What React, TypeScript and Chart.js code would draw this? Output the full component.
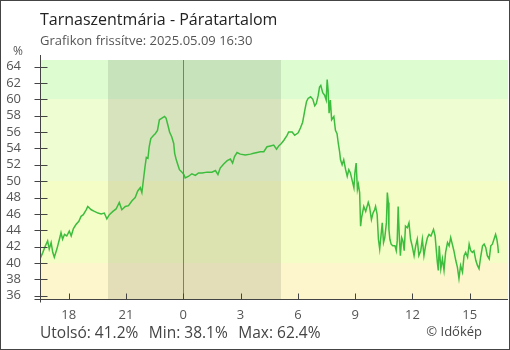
import { useEffect, useRef } from "react";
import { Chart, registerables } from "chart.js";

Chart.register(...registerables);

const chartTitle = "Tarnaszentmária - Páratartalom";
const updatedLabel = "Grafikon frissítve: 2025.05.09 16:30";
const unitLabel = "%";
const creditLabel = "© Időkép";
const lastLabel = "Utolsó";

// Measurement times (from 16:30 on the previous day to 16:30)
const times: string[] = [
  "16:30", "16:39", "16:47", "16:54", "16:59", "17:05", "17:10", "17:15", "17:23", "17:31",
  "17:36", "17:41", "17:47", "17:54", "18:02", "18:08", "18:15", "18:23", "18:32", "18:39",
  "18:46", "18:55", "19:00", "19:11", "19:21", "19:32", "19:42", "19:52", "20:00", "20:08",
  "20:19", "20:29", "20:39", "20:47", "20:58", "21:08", "21:19", "21:29", "21:37", "21:45",
  "21:50", "21:55", "22:00", "22:04", "22:09", "22:13", "22:18", "22:27", "22:32", "22:39",
  "22:45", "22:53", "23:01", "23:06", "23:12", "23:17", "23:24", "23:30", "23:33", "23:38",
  "23:43", "23:48", "23:56", "00:02", "00:06", "00:17", "00:27", "00:38", "00:48", "00:59",
  "01:15", "01:30", "01:41", "01:49", "01:56", "02:07", "02:18", "02:28", "02:35", "02:41",
  "02:49", "02:59", "03:15", "03:31", "03:41", "03:52", "04:02", "04:13", "04:23", "04:34",
  "04:44", "04:53", "05:00", "05:08", "05:16", "05:26", "05:31", "05:42", "05:50", "06:01",
  "06:08", "06:15", "06:22", "06:27", "06:32", "06:40", "06:47", "06:53", "06:58", "07:04",
  "07:08", "07:12", "07:18", "07:24", "07:29", "07:32", "07:35", "07:38", "07:42", "07:46",
  "07:53", "07:58", "08:03", "08:07", "08:11", "08:14", "08:19", "08:24", "08:30", "08:35",
  "08:40", "08:45", "08:51", "08:56", "08:59", "09:03", "09:07", "09:10", "09:14", "09:17",
  "09:20", "09:27", "09:33", "09:41", "09:45", "09:51", "09:56", "10:01", "10:04", "10:09",
  "10:13", "10:17", "10:21", "10:25", "10:29", "10:33", "10:38", "10:41", "10:44", "10:46",
  "10:49", "10:53", "10:58", "11:05", "11:09", "11:12", "11:15", "11:19", "11:22", "11:26",
  "11:30", "11:34", "11:38", "11:44", "11:49", "11:54", "11:59", "12:05", "12:10", "12:15",
  "12:20", "12:26", "12:31", "12:36", "12:41", "12:47", "12:52", "12:58", "13:06", "13:11",
  "13:18", "13:21", "13:24", "13:29", "13:34", "13:39", "13:44", "13:50", "13:55", "14:00",
  "14:05", "14:10", "14:16", "14:21", "14:26", "14:31", "14:37", "14:42", "14:47", "14:53",
  "14:58", "15:03", "15:08", "15:13", "15:19", "15:24", "15:29", "15:34", "15:40", "15:45",
  "15:50", "15:55", "16:01", "16:06", "16:11", "16:16", "16:21", "16:25", "16:28", "16:30",
];

// Relative humidity (%)
const humidity: number[] = [
  40.5, 41.3, 42.1, 42.7, 41.7, 42.5, 41.3, 40.7, 41.7, 42.9,
  43.7, 42.9, 43.5, 43.3, 43.9, 43.3, 44.2, 44.7, 45.1, 45.7,
  45.9, 46.5, 46.9, 46.5, 46.3, 46.1, 46.0, 46.1, 45.4, 45.9,
  46.3, 46.6, 47.4, 46.5, 46.9, 47.0, 47.6, 48.0, 48.8, 49.2,
  48.6, 50.2, 51.8, 52.9, 52.8, 54.2, 55.2, 55.6, 55.8, 56.2,
  57.5, 57.7, 57.9, 57.7, 56.8, 56.0, 55.4, 54.6, 53.4, 52.6,
  52.0, 51.4, 51.1, 50.8, 50.4, 50.6, 50.9, 50.7, 51.0, 51.0,
  51.1, 51.1, 51.3, 50.8, 51.6, 52.1, 52.5, 52.7, 52.2, 53.0,
  53.5, 53.3, 53.2, 53.3, 53.4, 53.5, 53.6, 53.6, 54.2, 54.3,
  54.4, 53.9, 54.3, 54.6, 55.0, 55.6, 56.0, 56.0, 55.6, 55.9,
  56.5, 57.2, 58.7, 59.7, 60.1, 60.3, 60.0, 59.2, 59.5, 60.5,
  61.5, 61.7, 60.8, 60.5, 59.9, 62.4, 61.1, 58.3, 59.9, 57.5,
  57.9, 56.2, 55.8, 54.6, 53.6, 52.6, 52.0, 52.6, 51.4, 50.6,
  51.4, 51.0, 50.0, 49.2, 51.0, 52.2, 49.0, 49.6, 48.6, 44.5,
  45.5, 46.9, 46.3, 47.4, 46.9, 45.3, 46.1, 46.5, 46.9, 45.9,
  42.9, 41.7, 43.3, 44.9, 42.5, 43.1, 44.9, 48.6, 47.4, 44.1,
  42.9, 42.3, 42.1, 42.1, 41.5, 42.7, 46.9, 42.9, 40.9, 43.1,
  42.7, 41.5, 44.5, 44.3, 44.9, 42.9, 42.1, 40.9, 42.1, 42.9,
  40.9, 41.5, 42.9, 40.9, 42.1, 43.1, 43.5, 43.3, 44.1, 43.3,
  40.1, 39.1, 42.1, 39.3, 40.5, 39.1, 41.3, 42.5, 42.1, 43.1,
  42.3, 41.5, 40.3, 39.5, 38.1, 39.7, 38.9, 40.9, 41.3, 40.7,
  42.3, 41.5, 41.3, 41.5, 40.3, 39.7, 39.3, 40.7, 42.1, 42.3,
  41.9, 40.9, 40.5, 42.1, 42.3, 42.9, 43.5, 42.9, 42.1, 41.2,
];

const xTickHours = [18, 21, 0, 3, 6, 9, 12, 15];
const yTickValues = [36, 38, 40, 42, 44, 46, 48, 50, 52, 54, 56, 58, 60, 62, 64];
const bandLimits = [40, 50, 60];
const sunsetTime = "20:04";
const sunriseTime = "05:07";
const xHourRange = [-7.5, 17.0];
const yValueRange = [35.6, 64.8];

const FONT = "'Open Sans', 'Noto Sans', sans-serif";
const bandColors = ["#fdf6cd", "#f5fdc6", "#effdd3", "#ddfdd1"];

function minutesOf(t: string): number {
  const [h, m] = t.split(":").map(Number);
  return h * 60 + m;
}

function toHours(list: string[]): number[] {
  let offset = -1440;
  let prev = -1;
  return list.map((t) => {
    const m = minutesOf(t);
    if (prev >= 0 && m < prev) offset += 1440;
    prev = m;
    return (m + offset) / 60;
  });
}

const hourValues = toHours(times);
const points = hourValues.map((x, i) => ({ x, y: humidity[i] }));
const xTickPositions = xTickHours.map((h) => (h > 16 ? h - 24 : h));
const sunsetHour = (minutesOf(sunsetTime) - 1440) / 60;
const sunriseHour = minutesOf(sunriseTime) / 60;

const fmt = (v: number) => v.toFixed(1) + "%";

const decorPlugin = {
  id: "decor",
  beforeDraw(chart: any) {
    const { ctx, chartArea: a, scales } = chart;
    const ys = scales.y;
    const xs = scales.x;
    ctx.save();
    ctx.fillStyle = "#ffffff";
    ctx.fillRect(0, 0, chart.width, chart.height);
    const limits = [yValueRange[0], ...bandLimits, yValueRange[1]];
    for (let i = 0; i < limits.length - 1; i++) {
      const yTop = Math.round(ys.getPixelForValue(limits[i + 1]));
      const yBot = Math.round(ys.getPixelForValue(limits[i]));
      ctx.fillStyle = bandColors[i];
      ctx.fillRect(a.left, yTop, a.right - a.left, yBot - yTop);
    }
    const nx0 = Math.round(xs.getPixelForValue(sunsetHour));
    const nx1 = Math.round(xs.getPixelForValue(sunriseHour));
    ctx.fillStyle = "rgba(0,0,0,0.1)";
    ctx.fillRect(nx0, a.top, nx1 - nx0, a.bottom - a.top);
    ctx.restore();
  },
  afterDatasetsDraw(chart: any) {
    const { ctx, chartArea: a, scales } = chart;
    const mx = Math.round(scales.x.getPixelForValue(0)) + 0.5;
    ctx.save();
    ctx.strokeStyle = "#3a90c8";
    ctx.lineWidth = 1;
    ctx.beginPath();
    ctx.moveTo(mx, a.top);
    ctx.lineTo(mx, a.bottom);
    ctx.stroke();
    ctx.restore();
  },
  afterDraw(chart: any) {
    const { ctx, chartArea: a, scales } = chart;
    const ys = scales.y;
    const xs = scales.x;
    ctx.save();
    ctx.strokeStyle = "#444444";
    ctx.lineWidth = 1;
    const ax = Math.round(a.left) + 0.5;
    const ay = Math.round(a.bottom) + 0.5;
    ctx.beginPath();
    ctx.moveTo(ax, a.top - 5);
    ctx.lineTo(ax, ay + 3);
    ctx.moveTo(ax - 6, ay);
    ctx.lineTo(a.right, ay);
    yTickValues.forEach((v) => {
      const py = Math.round(ys.getPixelForValue(v)) + 0.5;
      ctx.moveTo(ax - 6, py);
      ctx.lineTo(ax + 7, py);
    });
    xTickPositions.forEach((v) => {
      const px = Math.round(xs.getPixelForValue(v)) + 0.5;
      ctx.moveTo(px, ay - 6);
      ctx.lineTo(px, ay);
    });
    ctx.stroke();

    ctx.textBaseline = "alphabetic";
    ctx.textAlign = "left";
    ctx.fillStyle = "#222222";
    ctx.font = `16px ${FONT}`;
    ctx.fillText(chartTitle, 40, 25);
    ctx.fillStyle = "#555555";
    ctx.font = `13px ${FONT}`;
    ctx.fillText(updatedLabel, 40, 45);
    ctx.font = `12px ${FONT}`;
    ctx.fillText(unitLabel, 13, 55);

    const last = humidity[humidity.length - 1];
    const mn = Math.min(...humidity);
    const mx = Math.max(...humidity);
    const parts = [`${lastLabel}: ${fmt(last)}`, `Min: ${fmt(mn)}`, `Max: ${fmt(mx)}`];
    ctx.fillStyle = "#444444";
    ctx.font = `15.5px ${FONT}`;
    let tx = 40;
    parts.forEach((p) => {
      ctx.fillText(p, tx, 338);
      tx += ctx.measureText(p).width + 10.5;
    });
    ctx.font = `13px ${FONT}`;
    ctx.textAlign = "right";
    ctx.fillText(creditLabel, 482, 336);

    ctx.strokeStyle = "#444444";
    ctx.strokeRect(0.5, 0.5, chart.width - 1, chart.height - 1);
    ctx.restore();
  },
};

export default function App() {
  const ref = useRef<HTMLCanvasElement | null>(null);
  useEffect(() => {
    document.body.style.margin = "0";
    const canvas = ref.current;
    if (!canvas) return;
    const chart = new Chart(canvas, {
      type: "line",
      data: {
        datasets: [
          {
            data: points,
            borderColor: "#3dbd3d",
            borderWidth: 1.5,
            pointRadius: 0,
            tension: 0,
            fill: false,
          },
        ],
      },
      options: {
        animation: false,
        responsive: false,
        devicePixelRatio: 1,
        parsing: false,
        layout: { padding: { top: 60, right: 2, left: 0, bottom: 0 } },
        plugins: { legend: { display: false }, tooltip: { enabled: false }, title: { display: false } },
        scales: {
          x: {
            type: "linear",
            min: xHourRange[0],
            max: xHourRange[1],
            grid: { display: false, drawTicks: false },
            border: { display: false },
            afterBuildTicks: (s: any) => {
              s.ticks = xTickPositions.map((v) => ({ value: v }));
            },
            afterFit: (s: any) => {
              s.height = 51;
            },
            ticks: {
              autoSkip: false,
              maxRotation: 0,
              padding: 8,
              color: "#555555",
              font: { family: FONT, size: 13 },
              callback: (v: any) => String(((Number(v) % 24) + 24) % 24),
            },
          },
          y: {
            type: "linear",
            min: yValueRange[0],
            max: yValueRange[1],
            grid: { display: false, drawTicks: false },
            border: { display: false },
            afterBuildTicks: (s: any) => {
              s.ticks = yTickValues.map((v) => ({ value: v }));
            },
            afterFit: (s: any) => {
              s.width = 40;
            },
            ticks: {
              autoSkip: false,
              padding: 19,
              color: "#555555",
              font: { family: FONT, size: 13 },
              callback: (v: any) => String(v),
            },
          },
        },
      },
      plugins: [decorPlugin],
    });
    return () => chart.destroy();
  }, []);
  return <canvas ref={ref} width={510} height={350} style={{ display: "block", width: 510, height: 350 }} />;
}
